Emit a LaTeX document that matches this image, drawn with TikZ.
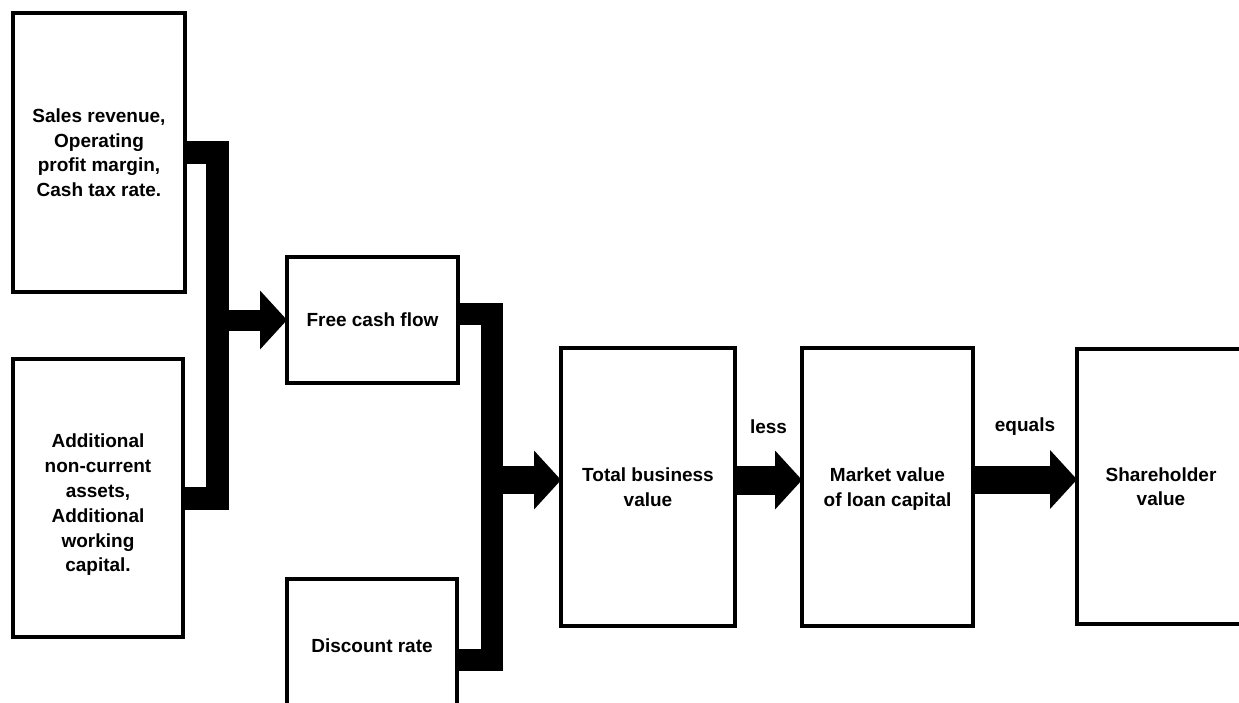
\documentclass[tikz,border=0pt]{standalone}
\usepackage{fontspec}
\setmainfont{Liberation Sans}
\usetikzlibrary{calc}

% thick block arrow: shaft from #1 to the head, head tip at #2
\newcommand\blockarrow[3]{%
  \draw[line width=#3] (#1) -- ($(#2)+(-26,0)$);
  \fill ($(#2)+(-27,-29.5)$) -- (#2) -- ($(#2)+(-27,29.5)$) -- cycle;}
% centred lines, lowered by #1 without changing the box size
\newcommand\lowered[2]{\raisebox{-#1}[\height][\depth]{\begin{tabular}{@{}c@{}}#2\end{tabular}}}

\begin{document}
\begin{tikzpicture}[x=1pt,y=-1pt,
  box/.style={draw=black, line width=3.3pt, fill=white, align=center,
    inner sep=0pt, outer sep=0pt,
    font=\bfseries\fontsize{19}{24.8}\selectfont},
  bar/.style={line width=#1, line join=miter, line cap=butt},
  lbl/.style={font=\bfseries\fontsize{19}{22}\selectfont}]
\useasboundingbox (0,0) rectangle (1239,703);
\clip (0,0) rectangle (1239,703);
\fill[white] (0,0) rectangle (1239,703);

% input boxes
\node[box, minimum width=172pt, minimum height=279pt] (A) at (99,152.5)
  {\lowered{2pt}{Sales revenue,\\Operating\\profit margin,\\Cash tax rate.}};
\node[box, minimum width=170pt, minimum height=278pt] (B) at (98,498)
  {\lowered{7pt}{Additional\\non-current\\assets,\\Additional\\working\\capital.}};
\node[box, minimum width=171pt, minimum height=126pt] (C) at (372.5,320)
  {Free cash flow};
\node[box, minimum width=170pt, minimum height=133pt] (D) at (372,645.5)
  {Discount rate};

% value chain
\node[box, minimum width=174pt, minimum height=278pt] (E) at (648,487)
  {\lowered{2pt}{Total business\\value}};
\node[box, minimum width=171pt, minimum height=278pt] (F) at (887.5,487)
  {\lowered{2pt}{Market value\\of loan capital}};
\node[box, minimum width=168pt, minimum height=275pt] (G) at (1161,486.5)
  {\lowered{2pt}{Shareholder\\value}};

% junction columns and arrow tips
\coordinate (j1) at (217.5,0);
\coordinate (j2) at (492,0);
\coordinate (tE) at ($(E.west)+(0,-7)$);
\coordinate (tF) at ($(F.west)+(0,-7)$);
\coordinate (tG) at ($(G.west)+(0,-7)$);

% bracket joining the two input boxes
\draw[bar=23pt] (A.east) -| (j1 |- B.east) -- (B.east);
\blockarrow{j1 |- C.west}{C.west}{21pt}

% bracket joining free cash flow and discount rate
\coordinate (c1) at ($(C.east)+(0,-6)$);
\coordinate (d1) at ($(D.east)+(0,14)$);
\draw[bar=22pt] (c1) -| (j2 |- d1) -- (d1);
\blockarrow{j2 |- tE}{tE}{28pt}

% less / equals
\blockarrow{E.east |- tF}{tF}{29pt}
\blockarrow{F.east |- tG}{tG}{28pt}
\node[lbl] (less) at ($(E.east)!0.5!(F.west)+(0,-60)$) {less};
\node[lbl] (equals) at ($(F.east)!0.5!(G.west)+(0,-60)$) {equals};
\end{tikzpicture}
\end{document}
